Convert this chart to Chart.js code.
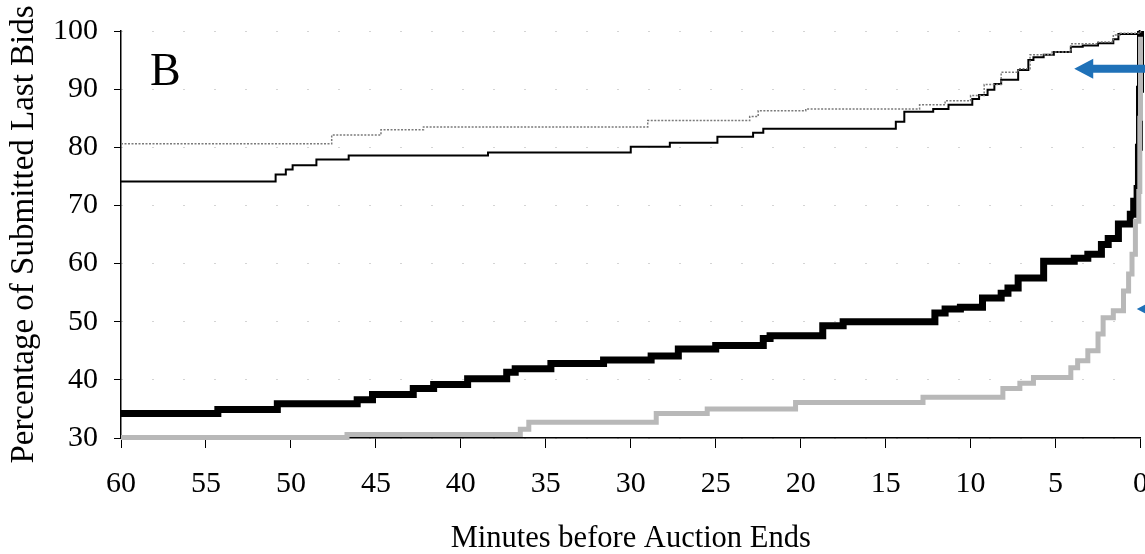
<!DOCTYPE html>
<html>
<head>
<meta charset="utf-8">
<script src="https://cdn.jsdelivr.net/npm/chart.js@4.4.0/dist/chart.umd.min.js"></script>
<style>
  html, body { margin: 0; padding: 0; background: #fff; overflow: hidden; width: 1145px; height: 554px; }
  canvas { display: block; }
</style>
</head>
<body>
<canvas id="chart" width="1169" height="554"></canvas>
<script>
// ── Data (minutes before end → cumulative % of submitted last bids) ──────
const thinBlackMin = [60, 50.9, 50.3, 49.9, 48.5, 46.6, 38.4, 30.0, 27.7, 24.9, 22.8, 22.2, 14.4, 13.9, 12.2, 11.3, 9.9, 9.5, 9.0, 8.6, 8.2, 7.2, 6.6, 6.3, 5.7, 5.1, 4.1, 3.4, 2.5, 1.6, 1.3, 0.05, 0];
const thinBlackPct = [74.1, 75.3, 76.2, 76.9, 77.9, 78.6, 79.1, 80.1, 80.8, 81.8, 82.5, 83.2, 84.4, 86.1, 86.6, 87.3, 88.3, 89.0, 89.9, 90.9, 91.6, 93.3, 95.0, 95.5, 95.9, 96.4, 97.3, 97.5, 97.9, 98.6, 99.5, 100, 100];

const thinGreyMin = [60, 47.6, 44.7, 42.2, 29.0, 23.0, 22.5, 19.7, 13.0, 11.5, 10.0, 9.2, 8.2, 7.2, 6.5, 5.2, 4.1, 2.5, 1.6, 1.2, 0];
const thinGreyPct = [80.6, 82.1, 83.0, 83.5, 84.6, 85.3, 86.3, 86.6, 87.3, 88.0, 88.9, 90.8, 92.9, 93.5, 95.9, 96.4, 97.8, 98.1, 99.3, 99.6, 100];

const thickBlackMin = [60, 54.3, 50.8, 46.1, 45.2, 42.8, 41.6, 39.6, 37.3, 36.8, 34.7, 31.6, 28.8, 27.2, 25.0, 22.2, 21.8, 18.7, 17.5, 12.1, 11.5, 10.6, 9.3, 8.2, 7.8, 7.2, 5.7, 3.9, 3.1, 2.3, 1.9, 1.3, 0.6, 0.4, 0.2, 0.12, 0.06, 0];
const thickBlackPct = [34.2, 34.9, 35.9, 36.6, 37.5, 38.5, 39.2, 40.2, 41.3, 41.9, 42.8, 43.4, 44.1, 45.3, 45.9, 47.1, 47.6, 49.3, 50.0, 51.5, 52.2, 52.5, 54.1, 54.9, 55.8, 57.5, 60.4, 60.9, 61.6, 63.3, 64.3, 66.8, 68.5, 70.7, 72.9, 80, 90, 100];

const thickGreyMin = [60, 46.7, 36.5, 36.0, 28.5, 25.5, 20.3, 12.8, 8.1, 7.1, 6.3, 4.1, 3.7, 3.1, 2.5, 2.2, 1.6, 1.0, 0.7, 0.5, 0.3, 0.1, 0.04, 0];
const thickGreyPct = [30.1, 30.6, 31.5, 32.7, 34.2, 35.0, 36.1, 37.0, 38.5, 39.4, 40.4, 42.1, 43.3, 45.0, 47.9, 50.7, 51.9, 55.3, 58.2, 61.6, 67.3, 72.4, 85, 99];

const xTicksStep = 5;
const yTicksStep = 10;
const xTitle = 'Minutes before Auction Ends';
const yTitle = 'Percentage of Submitted Last Bids';

// panel letter and the two blue arrows, in data units
const panelLabel = { text: 'B', x: 58.3, y: 90.75 };
const arrows = [ { x: 3.9, y: 93.5 }, { x: 0.22, y: 52.2 } ];
const arrowColor = '#1f71b8';

const FONT = 'Liberation Serif';
const pts = (xs, ys) => xs.map((x, i) => ({ x, y: ys[i] }));

// ── Overlay: letter "B" + arrows ─────────────────────────────────────────
const overlay = {
  id: 'overlay',
  afterDatasetsDraw(chart) {
    const { ctx, scales: { x, y } } = chart;
    ctx.save();
    ctx.fillStyle = '#000';
    ctx.font = `46px "${FONT}"`;
    ctx.textAlign = 'left';
    ctx.textBaseline = 'alphabetic';
    ctx.fillText(panelLabel.text, x.getPixelForValue(panelLabel.x), y.getPixelForValue(panelLabel.y));

    ctx.fillStyle = arrowColor;
    for (const a of arrows) {
      const tx = x.getPixelForValue(a.x), ty = y.getPixelForValue(a.y);
      ctx.beginPath();
      ctx.moveTo(tx, ty);
      ctx.lineTo(tx + 19, ty - 10);
      ctx.lineTo(tx + 19, ty - 4);
      ctx.lineTo(tx + 200, ty - 4);
      ctx.lineTo(tx + 200, ty + 4);
      ctx.lineTo(tx + 19, ty + 4);
      ctx.lineTo(tx + 19, ty + 10);
      ctx.closePath();
      ctx.fill();
    }
    ctx.restore();
  }
};

const tickFont = { family: FONT, size: 30, lineHeight: 1 };

new Chart(document.getElementById('chart'), {
  type: 'line',
  data: {
    datasets: [
      { label: 'thin grey', data: pts(thinGreyMin, thinGreyPct), borderColor: '#7a7a7a', borderWidth: 1.5,
        borderDash: [2, 1.5], stepped: true, pointRadius: 0, fill: false, clip: 8 },
      { label: 'thin black', data: pts(thinBlackMin, thinBlackPct), borderColor: '#000', borderWidth: 2,
        stepped: true, pointRadius: 0, fill: false, clip: 8 },
      { label: 'thick grey', data: pts(thickGreyMin, thickGreyPct), borderColor: '#b8b8b8', borderWidth: 5,
        stepped: true, pointRadius: 0, fill: false, clip: 8 },
      { label: 'thick black', data: pts(thickBlackMin, thickBlackPct), borderColor: '#000', borderWidth: 7,
        stepped: true, pointRadius: 0, fill: false, clip: 8 }
    ]
  },
  options: {
    responsive: false,
    animation: false,
    layout: { padding: { top: 29, right: 0, left: 0, bottom: 0 } },
    plugins: { legend: { display: false }, tooltip: { enabled: false } },
    scales: {
      x: {
        type: 'linear', reverse: true, min: 0, max: 60,
        afterFit: s => { s.height = 116; },
        ticks: { stepSize: xTicksStep, color: '#000', font: tickFont, padding: 21, maxRotation: 0, autoSkip: false },
        grid: { drawOnChartArea: false, tickLength: 10, color: '#000', tickColor: '#000', lineWidth: 1 },
        border: { color: '#000', width: 1.5 },
        title: { display: true, text: xTitle, color: '#000', font: { family: FONT, size: 30.5, lineHeight: 1 }, padding: 0 }
      },
      y: {
        min: 30, max: 100,
        afterFit: s => { s.width = 121; },
        ticks: { stepSize: yTicksStep, color: '#000', font: tickFont, padding: 16 },
        grid: { color: '#a8a8a8', tickColor: '#000', tickLength: 7, lineWidth: 1, tickBorderDash: [] },
        border: { color: '#000', width: 1.5, dash: [1, 30] },
        title: { display: true, text: yTitle, color: '#000', font: { family: FONT, size: 33, lineHeight: 1 }, padding: { top: 8, bottom: 0 } }
      }
    }
  },
  plugins: [overlay]
});
</script>
</body>
</html>
